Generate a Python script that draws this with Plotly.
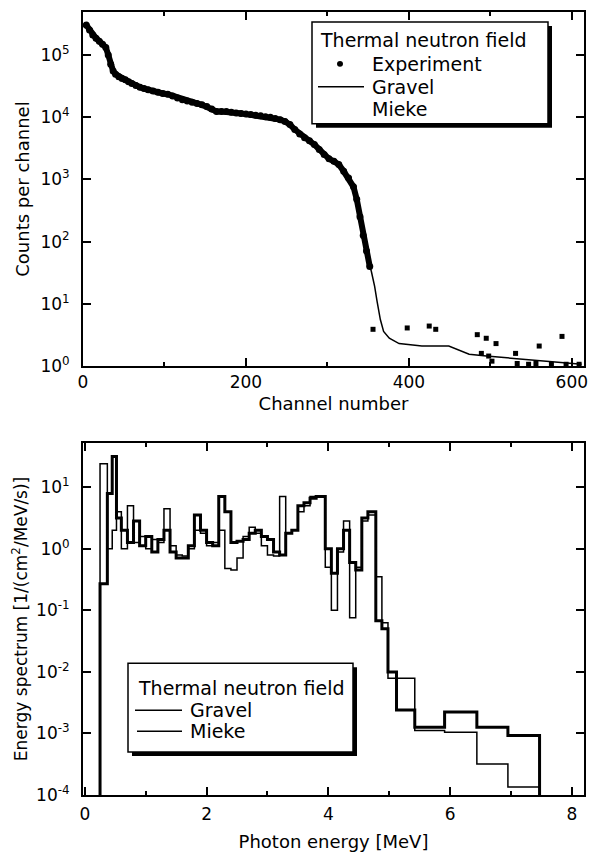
import plotly.graph_objects as go

# ---------------- Top panel data: pulse-height spectrum ----------------
exp_channel = [4, 8, 12, 16, 20, 24, 28, 31, 34, 37, 40, 44, 48, 52, 56, 60, 65, 70, 75, 80,
               86, 92, 98, 104, 110, 116, 122, 128, 134, 140, 146, 152, 158, 164, 170, 176,
               182, 188, 194, 200, 206, 212, 218, 224, 230, 236, 242, 248, 254, 260, 266,
               272, 278, 284, 290, 296, 302, 308, 314, 320, 326, 332, 336, 340, 344, 348, 352]
exp_counts = [302000, 251000, 209000, 186000, 166000, 148000, 132000, 100000, 70800, 55000,
              49000, 44700, 41700, 39800, 37200, 34700, 32400, 30200, 28800, 27500,
              26300, 25100, 24000, 23400, 21900, 20400, 19100, 18200, 17400, 16600,
              15800, 14800, 13500, 12300, 12300, 12300, 12000, 11700, 11500, 11200,
              11000, 10700, 10500, 10200, 10000, 9550, 9120, 8510, 7590, 6310, 5370,
              4680, 4170, 3630, 3020, 2510, 2140, 1950, 1740, 1350, 1050, 760, 480, 250,
              126, 71, 40]
exp_tail_channel = [356, 398, 425, 433, 484, 495, 507, 489, 498, 502, 531, 533, 547, 556,
                    560, 575, 588, 593, 609]
exp_tail_counts = [3.9, 4.1, 4.4, 3.9, 3.2, 2.8, 2.3, 1.6, 1.45, 1.2, 1.6, 1.1, 1.07, 1.1,
                   2.1, 1.07, 3.0, 1.07, 1.07]

gravel_channel = [2, 10, 20, 28, 34, 40, 60, 80, 100, 120, 140, 160, 180, 200, 220, 240,
                  260, 280, 300, 320, 330, 337, 340, 345, 349, 354, 358, 361, 365, 369,
                  376, 388, 416, 449, 474, 495, 535, 584, 612]
gravel_counts = [316000, 219000, 166000, 132000, 70800, 49000, 34700, 27500, 23400, 19500,
                 16600, 13200, 12300, 11200, 10500, 9330, 6310, 3980, 2240, 1350, 890, 437,
                 209, 100, 57.5, 33.1, 19.1, 11.0, 5.6, 3.6, 2.8, 2.3, 2.1, 2.1, 1.55, 1.45,
                 1.3, 1.15, 1.07]

# ---------------- Bottom panel data: unfolded photon spectra ----------------
bin_edges = [0.0, 0.25, 0.37, 0.45, 0.52, 0.6, 0.7, 0.8, 0.9, 1.0, 1.1, 1.2, 1.3, 1.4, 1.5,
             1.6, 1.7, 1.8, 1.9, 2.0, 2.1, 2.2, 2.3, 2.4, 2.5, 2.6, 2.7, 2.8, 2.9, 3.0, 3.1,
             3.2, 3.3, 3.4, 3.5, 3.6, 3.7, 3.8, 3.95, 4.05, 4.15, 4.25, 4.35, 4.45, 4.55,
             4.65, 4.78, 4.88, 4.98, 5.12, 5.42, 5.91, 6.44, 6.95, 7.47, 8.0]
gravel_flux = [1e-6, 24.0, 1.0, 2.0, 4.0, 1.0, 5.0, 1.26, 1.58, 1.0, 1.41, 1.26, 4.47, 1.12,
               0.79, 0.76, 1.0, 2.0, 1.78, 1.12, 1.26, 2.0, 0.48, 0.45, 0.71, 1.58, 2.24,
               1.78, 1.12, 0.79, 0.76, 7.1, 1.78, 2.0, 4.0, 5.0, 7.1, 7.1, 0.5, 0.1, 0.89,
               2.82, 0.076, 0.5, 2.82, 3.55, 0.35, 0.063, 0.0079, 0.0079, 0.00112, 0.00105,
               0.00032, 0.000135, 1e-6]
mieke_flux = [1e-6, 0.27, 7.9, 31.6, 3.16, 2.0, 1.26, 2.82, 1.12, 1.58, 0.89, 1.41, 2.0,
              0.89, 0.71, 0.71, 1.12, 3.55, 2.0, 1.26, 1.12, 7.1, 4.0, 1.26, 1.32, 1.41,
              1.78, 2.0, 1.58, 1.41, 0.89, 0.79, 1.78, 2.0, 5.0, 5.6, 6.6, 7.1, 1.0, 0.4,
              1.0, 2.0, 0.6, 0.45, 3.16, 4.0, 0.068, 0.05, 0.01, 0.0024, 0.00126, 0.00224,
              0.00126, 0.00093, 1e-6]

channel_ticks = [0, 200, 400, 600]
count_tickvals = [1, 10, 100, 1000, 10000, 100000]
count_ticktext = ["10<sup>0</sup>", "10<sup>1</sup>", "10<sup>2</sup>", "10<sup>3</sup>",
                  "10<sup>4</sup>", "10<sup>5</sup>"]
energy_ticks = [0, 2, 4, 6, 8]
flux_tickvals = [1e-4, 1e-3, 1e-2, 1e-1, 1, 10]
flux_ticktext = ["10<sup>-4</sup>", "10<sup>-3</sup>", "10<sup>-2</sup>", "10<sup>-1</sup>",
                 "10<sup>0</sup>", "10<sup>1</sup>"]

FONT = "DejaVu Sans"
OFF = 8                      # default page body margin
W, H = 600 - OFF, 852 - OFF
# plot area in window pixels: x 83..584, y 10..795
ML, MR, MT, MB = 83 - OFF, 600 - 584, 10 - OFF, 852 - 795
PW = 584 - 83
PH = 795 - 10


def px(x):
    return (x - 83) / PW


def py(y):
    return (795 - y) / PH


fig = go.Figure()

# top panel traces
fig.add_trace(go.Scatter(x=gravel_channel, y=gravel_counts, mode="lines",
                         line=dict(color="black", width=1.5), xaxis="x", yaxis="y",
                         showlegend=False, name="Gravel"))
fig.add_trace(go.Scatter(x=exp_channel, y=exp_counts, mode="lines+markers",
                         line=dict(color="black", width=6),
                         marker=dict(color="black", size=7, symbol="circle"),
                         xaxis="x", yaxis="y", showlegend=False, name="Experiment"))
fig.add_trace(go.Scatter(x=exp_tail_channel, y=exp_tail_counts, mode="markers",
                         marker=dict(color="black", size=5, symbol="square"),
                         xaxis="x", yaxis="y", showlegend=False, name="Experiment"))

# bottom panel traces
fig.add_trace(go.Scatter(x=bin_edges, y=gravel_flux + [gravel_flux[-1]], mode="lines",
                         line=dict(color="black", width=1.5, shape="hv"),
                         xaxis="x2", yaxis="y2", showlegend=False, name="Gravel"))
fig.add_trace(go.Scatter(x=bin_edges, y=mieke_flux + [mieke_flux[-1]], mode="lines",
                         line=dict(color="black", width=3, shape="hv"),
                         xaxis="x2", yaxis="y2", showlegend=False, name="Mieke"))

top_dom = [py(365), 1.0]
bot_dom = [0.0, py(442)]

axis_common = dict(showline=True, linecolor="black", linewidth=2, mirror="ticks",
                   ticks="inside", ticklen=8, tickwidth=1.5, tickcolor="black",
                   showgrid=False, zeroline=False, automargin=True,
                   tickfont=dict(family=FONT, size=17, color="black"))

fig.update_layout(
    width=W, height=H,
    margin=dict(l=ML, r=MR, t=MT, b=MB),
    paper_bgcolor="white", plot_bgcolor="white",
    font=dict(family=FONT, size=18, color="black"),
    xaxis=dict(domain=[0, 1], anchor="y", range=[0, 615], tickvals=channel_ticks,
               minor=dict(ticks="inside", ticklen=4, dtick=100, tickcolor="black"),
               title=dict(text="Channel number", font=dict(family=FONT, size=18), standoff=6),
               **axis_common),
    yaxis=dict(domain=top_dom, anchor="x", type="log", range=[0, 5.69],
               tickvals=count_tickvals, ticktext=count_ticktext, ticklabelstandoff=8,
               title=dict(text="Counts per channel", font=dict(family=FONT, size=18), standoff=6),
               **axis_common),
    xaxis2=dict(domain=[0, 1], anchor="y2", range=[-0.03, 8.2], tickvals=energy_ticks,
                ticklabelstandoff=3,
                minor=dict(ticks="inside", ticklen=4, dtick=1, tickcolor="black"),
                title=dict(text="Photon energy [MeV]", font=dict(family=FONT, size=18), standoff=13),
                **axis_common),
    yaxis2=dict(domain=bot_dom, anchor="x2", type="log", range=[-4, 1.72],
                tickvals=flux_tickvals, ticktext=flux_ticktext, ticklabelstandoff=8,
                title=dict(text="Energy spectrum [1/(cm<sup>2</sup>/MeV/s)]",
                           font=dict(family=FONT, size=17), standoff=4),
                **axis_common),
)

shapes = []
annotations = []


def legend_box(x0, y0, x1, y1):
    # shadow
    shapes.append(dict(type="rect", xref="paper", yref="paper",
                       x0=px(x0 + 4), x1=px(x1 + 4), y0=py(y1 + 4), y1=py(y0 + 4),
                       fillcolor="black", line=dict(width=0)))
    shapes.append(dict(type="rect", xref="paper", yref="paper",
                       x0=px(x0), x1=px(x1), y0=py(y1), y1=py(y0),
                       fillcolor="white", line=dict(color="black", width=1.5)))


def text(x, y, s, size=19):
    annotations.append(dict(xref="paper", yref="paper", x=px(x), y=py(y), text=s,
                            showarrow=False, xanchor="left", yanchor="middle",
                            font=dict(family=FONT, size=size, color="black")))


def line_sample(x0, x1, y, width):
    shapes.append(dict(type="line", xref="paper", yref="paper", x0=px(x0), x1=px(x1),
                       y0=py(y), y1=py(y), line=dict(color="black", width=width)))


# top legend
legend_box(312, 20, 548, 122)
text(318, 38, "Thermal neutron field")
shapes.append(dict(type="circle", xref="paper", yref="paper",
                   x0=px(337), x1=px(343), y0=py(65), y1=py(59),
                   fillcolor="black", line=dict(color="black", width=0)))
text(370, 62, "Experiment")
line_sample(318, 364, 85, 1.5)
text(370, 85, "Gravel")
text(370, 107, "Mieke")

# bottom legend
legend_box(128, 663, 353, 752)
text(136, 688, "Thermal neutron field")
line_sample(135, 182, 710, 1.5)
text(188, 710, "Gravel")
line_sample(137, 182, 731, 1.5)
text(188, 731, "Mieke")

fig.update_layout(shapes=shapes, annotations=annotations)

fig.write_html("out.html")
